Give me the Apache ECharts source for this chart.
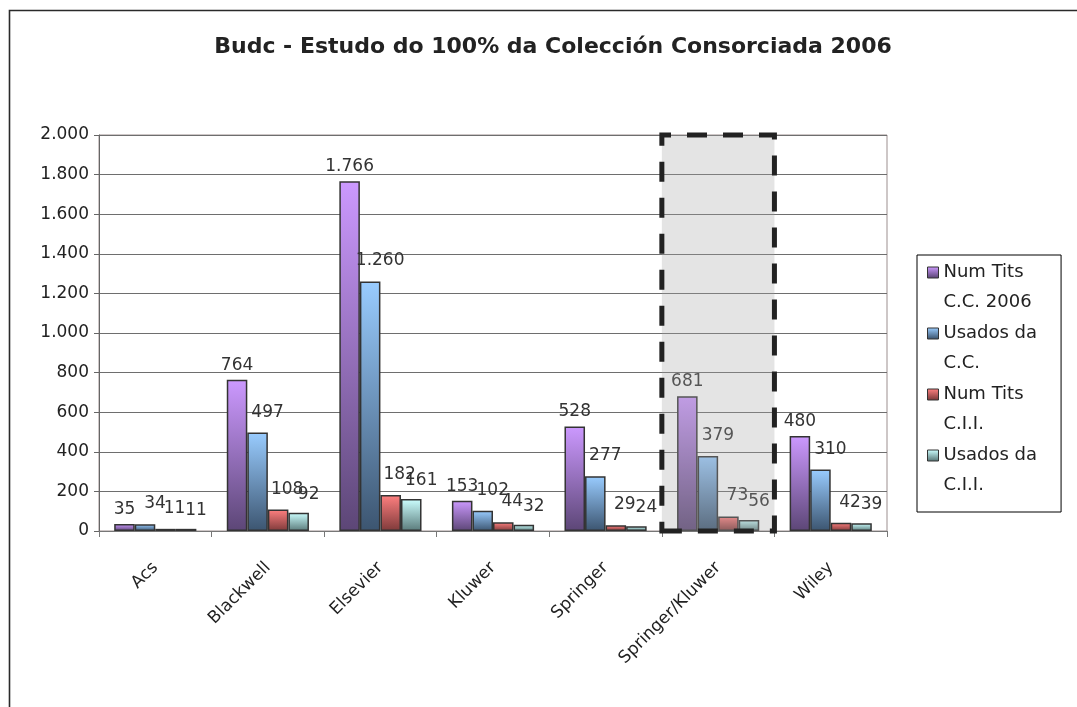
<!DOCTYPE html>
<html>
<head>
<meta charset="utf-8">
<script src="https://cdn.jsdelivr.net/npm/echarts@6/dist/echarts.min.js"></script>
<style>html,body{margin:0;padding:0;background:#fff}#c{width:1077px;height:707px}</style>
</head>
<body>
<div id="c"></div>
<script>
const categories = ['Acs', 'Blackwell', 'Elsevier', 'Kluwer', 'Springer', 'Springer/Kluwer', 'Wiley'];
const seriesNames = ['Num Tits\nC.C. 2006', 'Usados da\nC.C.', 'Num Tits\nC.I.I.', 'Usados da\nC.I.I.'];
const numTitsCC = [35, 764, 1766, 153, 528, 681, 480];
const usadosCC = [34, 497, 1260, 102, 277, 379, 310];
const numTitsCII = [11, 108, 182, 44, 29, 73, 42];
const usadosCII = [11, 92, 161, 32, 24, 56, 39];
const yTicks = [0, 200, 400, 600, 800, 1000, 1200, 1400, 1600, 1800, 2000];
const highlighted = 'Springer/Kluwer';

const FONT = 'DejaVu Sans';
const fmt = v => String(v).replace(/\B(?=(\d{3})+(?!\d))/g, '.');
const palette = [
  ['#CC99FF', '#5C4676'],
  ['#99CCFF', '#3C5570'],
  ['#FF8080', '#7E3A3A'],
  ['#CCFFFF', '#5A7A7A']
];
const labelOffsets = [[0, -2], [10, -8], [9, -8], [10, -6]];
const grad = (c, a, b) => ({
  type: 'linear', x: 0, y: 0, x2: 0, y2: 1,
  colorStops: [{offset: a, color: c[0]}, {offset: b, color: c[1]}]
});
const values = [numTitsCC, usadosCC, numTitsCII, usadosCII];

const series = values.map((vals, i) => {
  const s = {
    name: seriesNames[i],
    type: 'bar',
    data: vals,
    barGap: '0%',
    barCategoryGap: '27%',
    itemStyle: { color: grad(palette[i], 0, 1), borderColor: '#333', borderWidth: 1.5 },
    label: {
      show: true, position: 'top', distance: 4, offset: labelOffsets[i],
      formatter: p => fmt(p.value),
      fontFamily: FONT, fontSize: 17, color: '#333'
    }
  };
  if (i === 0) {
    s.markArea = {
      silent: true,
      z: 5,
      label: { show: false },
      itemStyle: {
        color: 'rgba(165,165,165,0.3)',
        borderColor: '#222', borderWidth: 5, borderType: [20, 16]
      },
      data: [[{ xAxis: highlighted, yAxis: yTicks[0] }, { xAxis: highlighted, yAxis: yTicks[yTicks.length - 1] }]]
    };
  }
  return s;
});

const iconPath = 'path://M0,0L0.01,0M0,9.5L11,9.5L11,20.5L0,20.5ZM0,60L0.01,60';

const chart = echarts.init(document.getElementById('c'), null, { renderer: 'canvas' });
chart.setOption({
  backgroundColor: '#fff',
  animation: false,
  title: {
    text: 'Budc - Estudo do 100% da Colección Consorciada 2006',
    left: 548, top: 31, textAlign: 'center',
    textStyle: { fontFamily: FONT, fontWeight: 'bold', fontSize: 22, color: '#222' }
  },
  legend: {
    orient: 'vertical',
    left: 917, top: 255,
    padding: [2, 24, 11, 10],
    itemGap: 0,
    itemWidth: 11, itemHeight: 60,
    icon: iconPath,
    borderColor: '#000', borderWidth: 1,
    textStyle: { fontFamily: FONT, fontSize: 18, lineHeight: 30, color: '#222' },
    data: seriesNames.map((n, i) => ({ name: n, itemStyle: { color: grad(palette[i], 0.16, 0.34), borderColor: '#333', borderWidth: 1 } }))
  },
  grid: {
    left: 99, right: 190, top: 135, bottom: 176,
    show: true, borderColor: '#9c8f8f', borderWidth: 1
  },
  xAxis: {
    type: 'category',
    data: categories,
    axisLine: { lineStyle: { color: '#777', width: 1 } },
    axisTick: { show: true, length: 6, lineStyle: { color: '#777' } },
    axisLabel: { rotate: 45, margin: 34, fontFamily: FONT, fontSize: 17, color: '#222' }
  },
  yAxis: {
    type: 'value',
    min: yTicks[0], max: yTicks[yTicks.length - 1], interval: 200,
    axisLine: { show: true, lineStyle: { color: '#666' } },
    axisTick: { show: true, length: 5, lineStyle: { color: '#666' } },
    splitLine: { lineStyle: { color: '#6e6e6e', width: 1 } },
    axisLabel: { formatter: v => fmt(v), margin: 10, fontFamily: FONT, fontSize: 17, color: '#222' }
  },
  graphic: [{
    type: 'rect', left: 7, top: 8, z: 100, silent: true,
    shape: { width: 1200, height: 800 },
    style: { fill: 'none', stroke: '#2a2a2a', lineWidth: 1.6 }
  }],
  series: series
});
</script>
</body>
</html>
